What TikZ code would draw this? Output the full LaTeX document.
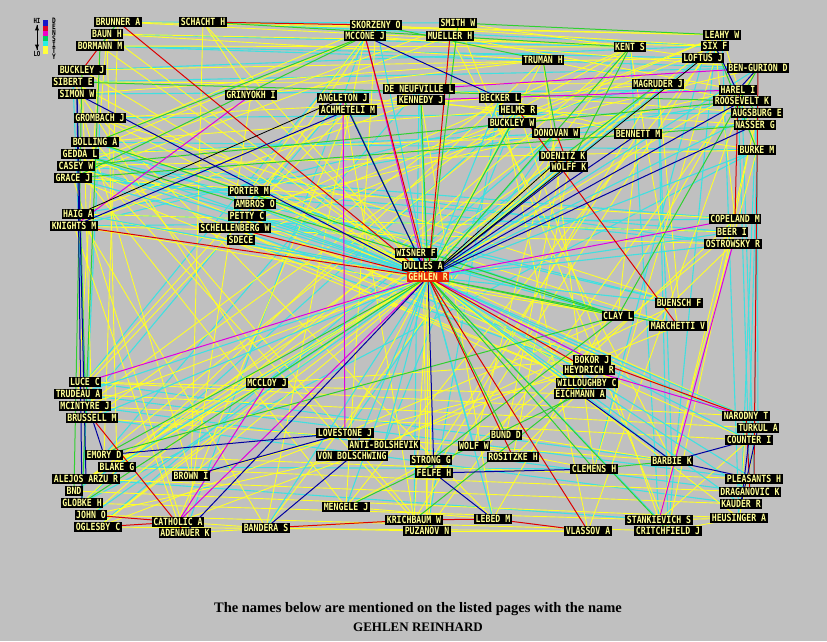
\documentclass[tikz,border=0pt]{standalone}
\usepackage{fontspec}
\newfontfamily\labfont[FakeStretch=0.82]{DejaVu Sans Mono}
\newfontfamily\titlefont{Liberation Serif}
\pgfdeclarelayer{bg}
\pgfdeclarelayer{edges}
\pgfsetlayers{bg,edges,main}
\definecolor{bgc}{RGB}{192,192,192}
\definecolor{labtxt}{RGB}{255,255,150}
\definecolor{ecyan}{RGB}{64,224,224}
\definecolor{eyellow}{RGB}{255,255,40}
\definecolor{egreen}{RGB}{48,208,48}
\definecolor{emag}{RGB}{224,0,224}
\definecolor{ered}{RGB}{220,0,0}
\definecolor{enavy}{RGB}{0,0,160}
\definecolor{gehlenred}{RGB}{230,40,0}
\definecolor{lgblue}{RGB}{20,20,200}
\definecolor{lgred}{RGB}{220,0,40}
\definecolor{lgmag}{RGB}{240,0,200}
\definecolor{lggreen}{RGB}{0,210,90}
\definecolor{lgcyan}{RGB}{40,240,230}
\definecolor{lgyellow}{RGB}{255,255,60}
\begin{document}
\begin{tikzpicture}[x=1pt,y=-1pt,
  lab/.style={fill=black, text=labtxt, font=\labfont\bfseries\fontsize{10}{10}\selectfont,
    inner xsep=1.5pt, inner ysep=0pt, minimum height=10pt, anchor=center},
  ecy/.style={draw=ecyan, line width=1.1pt},
  eye/.style={draw=eyellow, line width=0.9pt},
  egr/.style={draw=egreen, line width=1pt},
  ema/.style={draw=emag, line width=1pt},
  ere/.style={draw=ered, line width=1pt},
  ena/.style={draw=enavy, line width=1pt},
  ebk/.style={draw=black, line width=0.8pt},
  lgtext/.style={font=\labfont\bfseries\fontsize{7}{7}\selectfont, inner sep=0pt, text=black},
  dletter/.style={font=\labfont\bfseries\fontsize{7.5}{7.5}\selectfont, inner sep=0pt, text=black}]
\begin{pgfonlayer}{bg}
\fill[bgc] (0,0) rectangle (827,641);
\end{pgfonlayer}
\useasboundingbox (0,0) rectangle (827,641);

% ---------- nodes ----------
\node[lab] (brunner) at (118,22) {BRUNNER A};
\node[lab] (schacht) at (203,22) {SCHACHT H};
\node[lab] (baun) at (107,34) {BAUN H};
\node[lab] (bormann) at (100,46) {BORMANN M};
\node[lab] (buckleyj) at (82,70) {BUCKLEY J};
\node[lab] (sibert) at (73,82) {SIBERT E};
\node[lab] (simon) at (77,94) {SIMON W};
\node[lab] (grinyokh) at (251,95) {GRINYOKH I};
\node[lab] (grombach) at (100,118) {GROMBACH J};
\node[lab] (bolling) at (95,142) {BOLLING A};
\node[lab] (gedda) at (80,154) {GEDDA L};
\node[lab] (casey) at (76,166) {CASEY W};
\node[lab] (grace) at (73,178) {GRACE J};
\node[lab] (porter) at (249,191) {PORTER M};
\node[lab] (ambros) at (255,204) {AMBROS O};
\node[lab] (petty) at (247,216) {PETTY C};
\node[lab] (schell) at (235,228) {SCHELLENBERG W};
\node[lab] (sdece) at (241,240) {SDECE};
\node[lab] (haig) at (78,214) {HAIG A};
\node[lab] (knights) at (74,226) {KNIGHTS M};
\node[lab] (skorzeny) at (376,25) {SKORZENY O};
\node[lab] (smith) at (458,23) {SMITH W};
\node[lab] (mccone) at (365,36) {MCCONE J};
\node[lab] (mueller) at (450,36) {MUELLER H};
\node[lab] (truman) at (543,60) {TRUMAN H};
\node[lab] (deneuf) at (419,89) {DE NEUFVILLE L};
\node[lab] (angleton) at (343,98) {ANGLETON J};
\node[lab] (kennedy) at (421,100) {KENNEDY J};
\node[lab] (becker) at (500,98) {BECKER L};
\node[lab] (achmeteli) at (348,110) {ACHMETELI M};
\node[lab] (helms) at (518,110) {HELMS R};
\node[lab] (buckleyw) at (512,123) {BUCKLEY W};
\node[lab] (donovan) at (556,133) {DONOVAN W};
\node[lab] (doenitz) at (563,156) {DOENITZ K};
\node[lab] (wolffk) at (569,167) {WOLFF K};
\node[lab] (bennett) at (638,134) {BENNETT M};
\node[lab] (leahy) at (722,35) {LEAHY W};
\node[lab] (kent) at (630,47) {KENT S};
\node[lab] (six) at (715,46) {SIX F};
\node[lab] (loftus) at (703,58) {LOFTUS J};
\node[lab] (bengurion) at (758,68) {BEN-GURION D};
\node[lab] (magruder) at (658,84) {MAGRUDER J};
\node[lab] (harel) at (738,90) {HAREL I};
\node[lab] (roosevelt) at (742,101) {ROOSEVELT K};
\node[lab] (augsburg) at (757,113) {AUGSBURG E};
\node[lab] (nasser) at (755,125) {NASSER G};
\node[lab] (burke) at (757,150) {BURKE M};
\node[lab] (wisner) at (416,253) {WISNER F};
\node[lab] (dulles) at (423,266) {DULLES A};
\node[lab, fill=gehlenred] (gehlen) at (428,277) {GEHLEN R};
\node[lab] (copeland) at (735,219) {COPELAND M};
\node[lab] (beer) at (732,232) {BEER I};
\node[lab] (ostrowsky) at (733,244) {OSTROWSKY R};
\node[lab] (buensch) at (679,303) {BUENSCH F};
\node[lab] (clay) at (618,316) {CLAY L};
\node[lab] (marchetti) at (678,326) {MARCHETTI V};
\node[lab] (bokor) at (592,360) {BOKOR J};
\node[lab] (heydrich) at (589,370) {HEYDRICH R};
\node[lab] (willoughby) at (587,383) {WILLOUGHBY C};
\node[lab] (eichmann) at (580,394) {EICHMANN A};
\node[lab] (narodny) at (746,416) {NARODNY T};
\node[lab] (turkul) at (758,428) {TURKUL A};
\node[lab] (counter) at (749,440) {COUNTER I};
\node[lab] (barbie) at (672,461) {BARBIE K};
\node[lab] (clemens) at (594,469) {CLEMENS H};
\node[lab] (pleasants) at (754,479) {PLEASANTS H};
\node[lab] (draganovic) at (750,492) {DRAGANOVIC K};
\node[lab] (kauder) at (741,504) {KAUDER R};
\node[lab] (heusinger) at (739,518) {HEUSINGER A};
\node[lab] (stankievich) at (659,520) {STANKIEVICH S};
\node[lab] (critchfield) at (668,531) {CRITCHFIELD J};
\node[lab] (vlassov) at (588,531) {VLASSOV A};
\node[lab] (luce) at (85,382) {LUCE C};
\node[lab] (mccloy) at (267,383) {MCCLOY J};
\node[lab] (trudeau) at (78,394) {TRUDEAU A};
\node[lab] (mcintyre) at (85,406) {MCINTYRE J};
\node[lab] (brussell) at (92,418) {BRUSSELL M};
\node[lab] (emory) at (104,455) {EMORY D};
\node[lab] (blake) at (117,467) {BLAKE G};
\node[lab] (alejos) at (86,479) {ALEJOS ARZU R};
\node[lab] (brown) at (191,476) {BROWN I};
\node[lab] (bnd) at (74,491) {BND};
\node[lab] (globke) at (82,503) {GLOBKE H};
\node[lab] (john) at (91,515) {JOHN O};
\node[lab] (oglesby) at (98,527) {OGLESBY C};
\node[lab] (catholic) at (178,522) {CATHOLIC A};
\node[lab] (adenauer) at (185,533) {ADENAUER K};
\node[lab] (bandera) at (266,528) {BANDERA S};
\node[lab] (lovestone) at (345,433) {LOVESTONE J};
\node[lab] (antibol) at (384,445) {ANTI-BOLSHEVIK};
\node[lab] (vonbol) at (352,456) {VON BOLSCHWING};
\node[lab] (bund) at (506,435) {BUND D};
\node[lab] (wolfw) at (474,446) {WOLF W};
\node[lab] (rositzke) at (513,457) {ROSITZKE H};
\node[lab] (strong) at (431,460) {STRONG G};
\node[lab] (felfe) at (434,473) {FELFE H};
\node[lab] (mengele) at (346,507) {MENGELE J};
\node[lab] (krichbaum) at (414,520) {KRICHBAUM W};
\node[lab] (lebed) at (493,519) {LEBED M};
\node[lab] (puzanov) at (427,531) {PUZANOV N};

% ---------- legend ----------
\fill[lgblue] (43,20) rectangle (48,26);
\fill[lgred] (43,26) rectangle (48,31);
\fill[lgmag] (43,31) rectangle (48,36);
\fill[lggreen] (43,36) rectangle (48,41);
\fill[lgcyan] (43,41) rectangle (48,46);
\fill[lgyellow] (43,46) rectangle (48,54);
\node[lgtext] (hi) at (37,21) {HI};
\node[lgtext] (lo) at (37,54) {LO};
\draw[-latex, line width=0.9pt] ([yshift=-1pt]hi.south) -- ([yshift=1pt]lo.north);
\draw[-latex, line width=0.9pt] ([yshift=1pt]lo.north) -- ([yshift=-1pt]hi.south);
\node[dletter] (dD) at (54,21) {D};
\node[dletter] (dE) at (54,27) {E};
\node[dletter] (dN) at (54,33) {N};
\node[dletter] (dS) at (54,39) {S};
\node[dletter] (dI) at (54,45) {I};
\node[dletter] (dT) at (54,51) {T};
\node[dletter] (dY) at (54,57) {Y};

% ---------- title ----------
\node[font=\titlefont\bfseries\fontsize{14.5}{16}\selectfont, inner sep=0pt] (title1) at (418,609)
  {The names below are mentioned on the listed pages with the name};
\node[font=\titlefont\bfseries\fontsize{13}{15}\selectfont, inner sep=0pt] (title2) at (418,627)
  {GEHLEN REINHARD};

% ---------- edges ----------
\begin{pgfonlayer}{edges}
% cyan peripheral
\foreach \a/\b in {bolling/burke, gedda/nasser, casey/copeland, grace/beer, grombach/augsburg,
  simon/harel, sibert/bengurion, buckleyj/six, bormann/loftus, baun/kent, brunner/smith,
  haig/roosevelt, knights/magruder, luce/barbie, trudeau/pleasants, mcintyre/draganovic,
  brussell/kauder, blake/clemens, alejos/stankievich, globke/burke,
  skorzeny/luce, angleton/mcintyre,
  deneuf/emory, helms/globke, donovan/oglesby,
  magruder/barbie, kent/stankievich, six/critchfield, leahy/heusinger, loftus/clemens,
  bengurion/kauder, harel/draganovic, roosevelt/pleasants, augsburg/turkul, burke/counter,
  porter/clay, ambros/buensch, petty/marchetti, schell/bokor, sdece/heydrich,
  adenauer/mccone, krichbaum/deneuf,
  puzanov/becker, antibol/helms, lovestone/donovan, mccloy/doenitz,
  clay/bolling, clay/casey, buensch/gedda, ostrowsky/grace, beer/haig,
  copeland/knights, sibert/luce, grombach/globke, magruder/critchfield,
  burke/pleasants, schacht/six, bormann/bengurion, gedda/ostrowsky}
  \draw[ecy] (\a.center) -- (\b.center);
% yellow peripheral
\foreach \a/\b in {brunner/leahy, brunner/kent, baun/six, baun/truman, bormann/kent,
  buckleyj/loftus, sibert/magruder, simon/truman, grombach/becker, bolling/helms, gedda/bennett,
  casey/burke, grace/copeland, haig/beer, knights/ostrowsky, schacht/leahy, skorzeny/six,
  smith/loftus, mccone/bengurion, mueller/harel, truman/roosevelt, deneuf/augsburg,
  angleton/nasser, kennedy/burke, becker/bennett, achmeteli/magruder, helms/kent, buckleyw/leahy,
  mccone/bandera, skorzeny/mengele, angleton/krichbaum, kennedy/puzanov, deneuf/lebed,
  becker/vlassov, helms/stankievich, smith/critchfield, mueller/barbie, truman/clemens,
  achmeteli/catholic, grinyokh/adenauer, schacht/brown, brunner/emory, baun/blake,
  luce/narodny, trudeau/turkul, mcintyre/counter, brussell/barbie, emory/pleasants,
  blake/draganovic, alejos/kauder, bnd/heusinger, globke/stankievich, john/critchfield,
  oglesby/vlassov, knights/catholic, haig/bandera, grace/adenauer, casey/mengele,
  gedda/krichbaum, bolling/puzanov, grombach/lebed, simon/brown, sibert/mccloy,
  burke/barbie, nasser/stankievich, augsburg/critchfield, roosevelt/vlassov, harel/lebed,
  bengurion/puzanov, loftus/krichbaum, six/mengele, leahy/clemens, kent/bandera,
  magruder/felfe, bennett/strong, donovan/wolfw, doenitz/bund, wolffk/rositzke,
  porter/narodny, ambros/turkul, petty/counter, schell/eichmann, sdece/willoughby,
  mccloy/bokor, brown/heydrich, lovestone/clay, antibol/buensch, vonbol/marchetti,
  bund/copeland, wolfw/beer, rositzke/ostrowsky, porter/bengurion, ambros/harel,
  petty/kent, schell/leahy, sdece/six, bolling/skorzeny, gedda/mccone, casey/smith,
  grace/mueller, haig/deneuf, knights/kennedy, luce/angleton, trudeau/achmeteli,
  mcintyre/becker, brussell/helms, emory/buckleyw, blake/donovan, alejos/doenitz,
  bnd/wolffk, globke/truman, john/kent, oglesby/magruder, clay/knights, clay/haig,
  buensch/grombach, marchetti/bolling, bokor/gedda, heydrich/casey, willoughby/grace,
  eichmann/luce, buckleyj/brussell, bormann/trudeau, baun/grombach, schacht/grinyokh,
  grinyokh/truman, porter/mccone, ambros/skorzeny, heusinger/critchfield, stankievich/heusinger,
  puzanov/vlassov, bandera/puzanov, mengele/lebed, catholic/bandera, adenauer/krichbaum,
  leahy/burke, six/copeland, kent/marchetti, magruder/buensch, bennett/clay, narodny/kauder,
  turkul/heusinger, counter/stankievich, wolfw/clemens, bund/barbie, strong/mengele,
  felfe/puzanov, antibol/catholic, lovestone/oglesby, vonbol/john, mccloy/alejos}
  \draw[eye] (\a.center) -- (\b.center);
% cyan star
\foreach \b in {bolling, gedda, casey, grace, haig, porter, ambros, petty, sdece, skorzeny,
  deneuf, becker, helms, donovan, magruder, six, augsburg, burke, beer, ostrowsky, buensch,
  narodny, turkul, counter, barbie, pleasants, draganovic, kauder, stankievich, mccloy,
  brussell, trudeau, bnd, john, bandera, mengele, lebed, antibol, vonbol, wolfw, bengurion}
  \draw[ecy] (gehlen.center) -- (\b.center);
% yellow star
\foreach \b in {baun, bormann, buckleyj, sibert, grinyokh, grombach, schacht, truman, leahy,
  harel, eichmann, willoughby, heusinger, mcintyre, blake, alejos, oglesby, brown, lovestone,
  strong, krichbaum, puzanov, dulles}
  \draw[eye] (gehlen.center) -- (\b.center);
% green
\foreach \b in {smith, clay, clemens, bund, globke, buckleyw, kennedy, kent, emory,
  critchfield, marchetti, angleton}
  \draw[egr] (gehlen.center) -- (\b.center);
\foreach \a/\b in {schacht/kent, smith/leahy, skorzeny/truman, mccone/grace, mccone/bolling,
  sibert/roosevelt, bormann/globke, clay/bengurion, clay/bolling, clay/gedda, clemens/barbie,
  six/burke, kent/wolffk, magruder/doenitz, strong/clay, mengele/eichmann,
  krichbaum/willoughby, emory/clay, simon/luce, buckleyj/bnd, harel/augsburg,
  truman/donovan, brunner/bormann, casey/roosevelt, grace/nasser}
  \draw[egr] (\a.center) -- (\b.center);
% magenta
\foreach \b in {copeland, catholic, luce, bokor}
  \draw[ema] (gehlen.center) -- (\b.center);
\foreach \a/\b in {grinyokh/knights, bengurion/deneuf, harel/kennedy, stankievich/ostrowsky,
  mccone/dulles, angleton/lovestone, catholic/mccloy, heydrich/narodny}
  \draw[ema] (\a.center) -- (\b.center);
% red
\foreach \b in {brunner, knights, mccone, mueller, vlassov, schell, rositzke, heydrich}
  \draw[ere] (gehlen.center) -- (\b.center);
\foreach \a/\b in {schacht/skorzeny, bormann/buckleyj, brussell/adenauer, john/catholic,
  oglesby/catholic, krichbaum/bandera, krichbaum/lebed, lebed/vlassov, helms/marchetti,
  donovan/wolffk, bokor/narodny, bengurion/pleasants, harel/copeland, narodny/draganovic}
  \draw[ere] (\a.center) -- (\b.center);
% navy
\foreach \b in {simon, achmeteli, nasser, roosevelt, adenauer, felfe, wisner, bennett, wolffk}
  \draw[ena] (gehlen.center) -- (\b.center);
\foreach \a/\b in {simon/globke, mccone/becker, six/roosevelt, bengurion/harel, barbie/counter,
  barbie/pleasants, barbie/eichmann, felfe/clemens, felfe/lebed, brown/lovestone,
  lovestone/emory, turkul/kauder, counter/kauder, vonbol/bandera, achmeteli/knights,
  brussell/emory, simon/alejos}
  \draw[ena] (\a.center) -- (\b.center);
% black
\foreach \b in {loftus, doenitz}
  \draw[ebk] (gehlen.center) -- (\b.center);
\draw[ebk] (haig.center) -- (angleton.center);
\end{pgfonlayer}
\end{tikzpicture}
\end{document}
